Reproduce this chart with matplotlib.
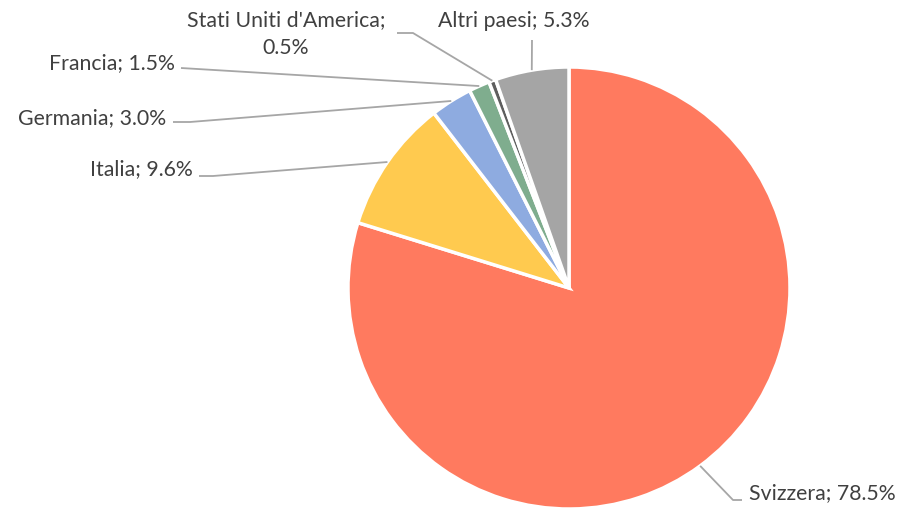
import numpy as np
import matplotlib.pyplot as plt

# data
paesi = ['Svizzera', 'Italia', 'Germania', 'Francia', "Stati Uniti d'America", 'Altri paesi']
quote = [78.5, 9.6, 3.0, 1.5, 0.5, 5.3]
colori = ['#FF7A5F', '#FFCA4F', '#8EABE0', '#7FAD8E', '#5E5E5E', '#A5A5A5']

W, H = 902, 508
fig = plt.figure(figsize=(W / 100, H / 100), dpi=100)
ax = fig.add_axes([0, 0, 1, 1])

cx, cy, r = 569, H - 288, 221
wedges, _ = ax.pie(quote, colors=colori, startangle=90, counterclock=False,
                   center=(cx, cy), radius=r, frame=True,
                   wedgeprops=dict(edgecolor='white', linewidth=2.5))
ax.set_xlim(0, W)
ax.set_ylim(0, H)
ax.axis('off')

# label layout: (text x, text y in image px, ha, elbow x, elbow y, stub end x)
lab_pos = [
    (749, 493, 'left', 733, 500, 742),
    (193, 169, 'right', 213, 176, 199),
    (166, 118, 'right', 190, 122, 173),
    (175, 63, 'right', 181, 68, 181),
    (286, 34, 'center', 413, 33, 397),
    (514, 21, 'center', 532, 40, 532),
]

font = ['Lato', 'DejaVu Sans']
for w, nome, q, (tx, ty, ha, ex, ey, sx) in zip(wedges, paesi, quote, lab_pos):
    ang = np.deg2rad((w.theta1 + w.theta2) / 2)
    px, py = cx + r * np.cos(ang), cy + r * np.sin(ang)
    if nome.startswith('Stati'):
        testo = f'{nome};\n{q:.1f}%'
    else:
        testo = f'{nome}; {q:.1f}%'
    ax.plot([px, ex, sx], [py, H - ey, H - ey], color='#A6A6A6', lw=1.3,
            solid_capstyle='butt')
    ax.text(tx, H - ty, testo, ha=ha, va='center', fontsize=15.3,
            color='#404040', family=font, linespacing=1.5)

fig.savefig('out.png', dpi=100)
